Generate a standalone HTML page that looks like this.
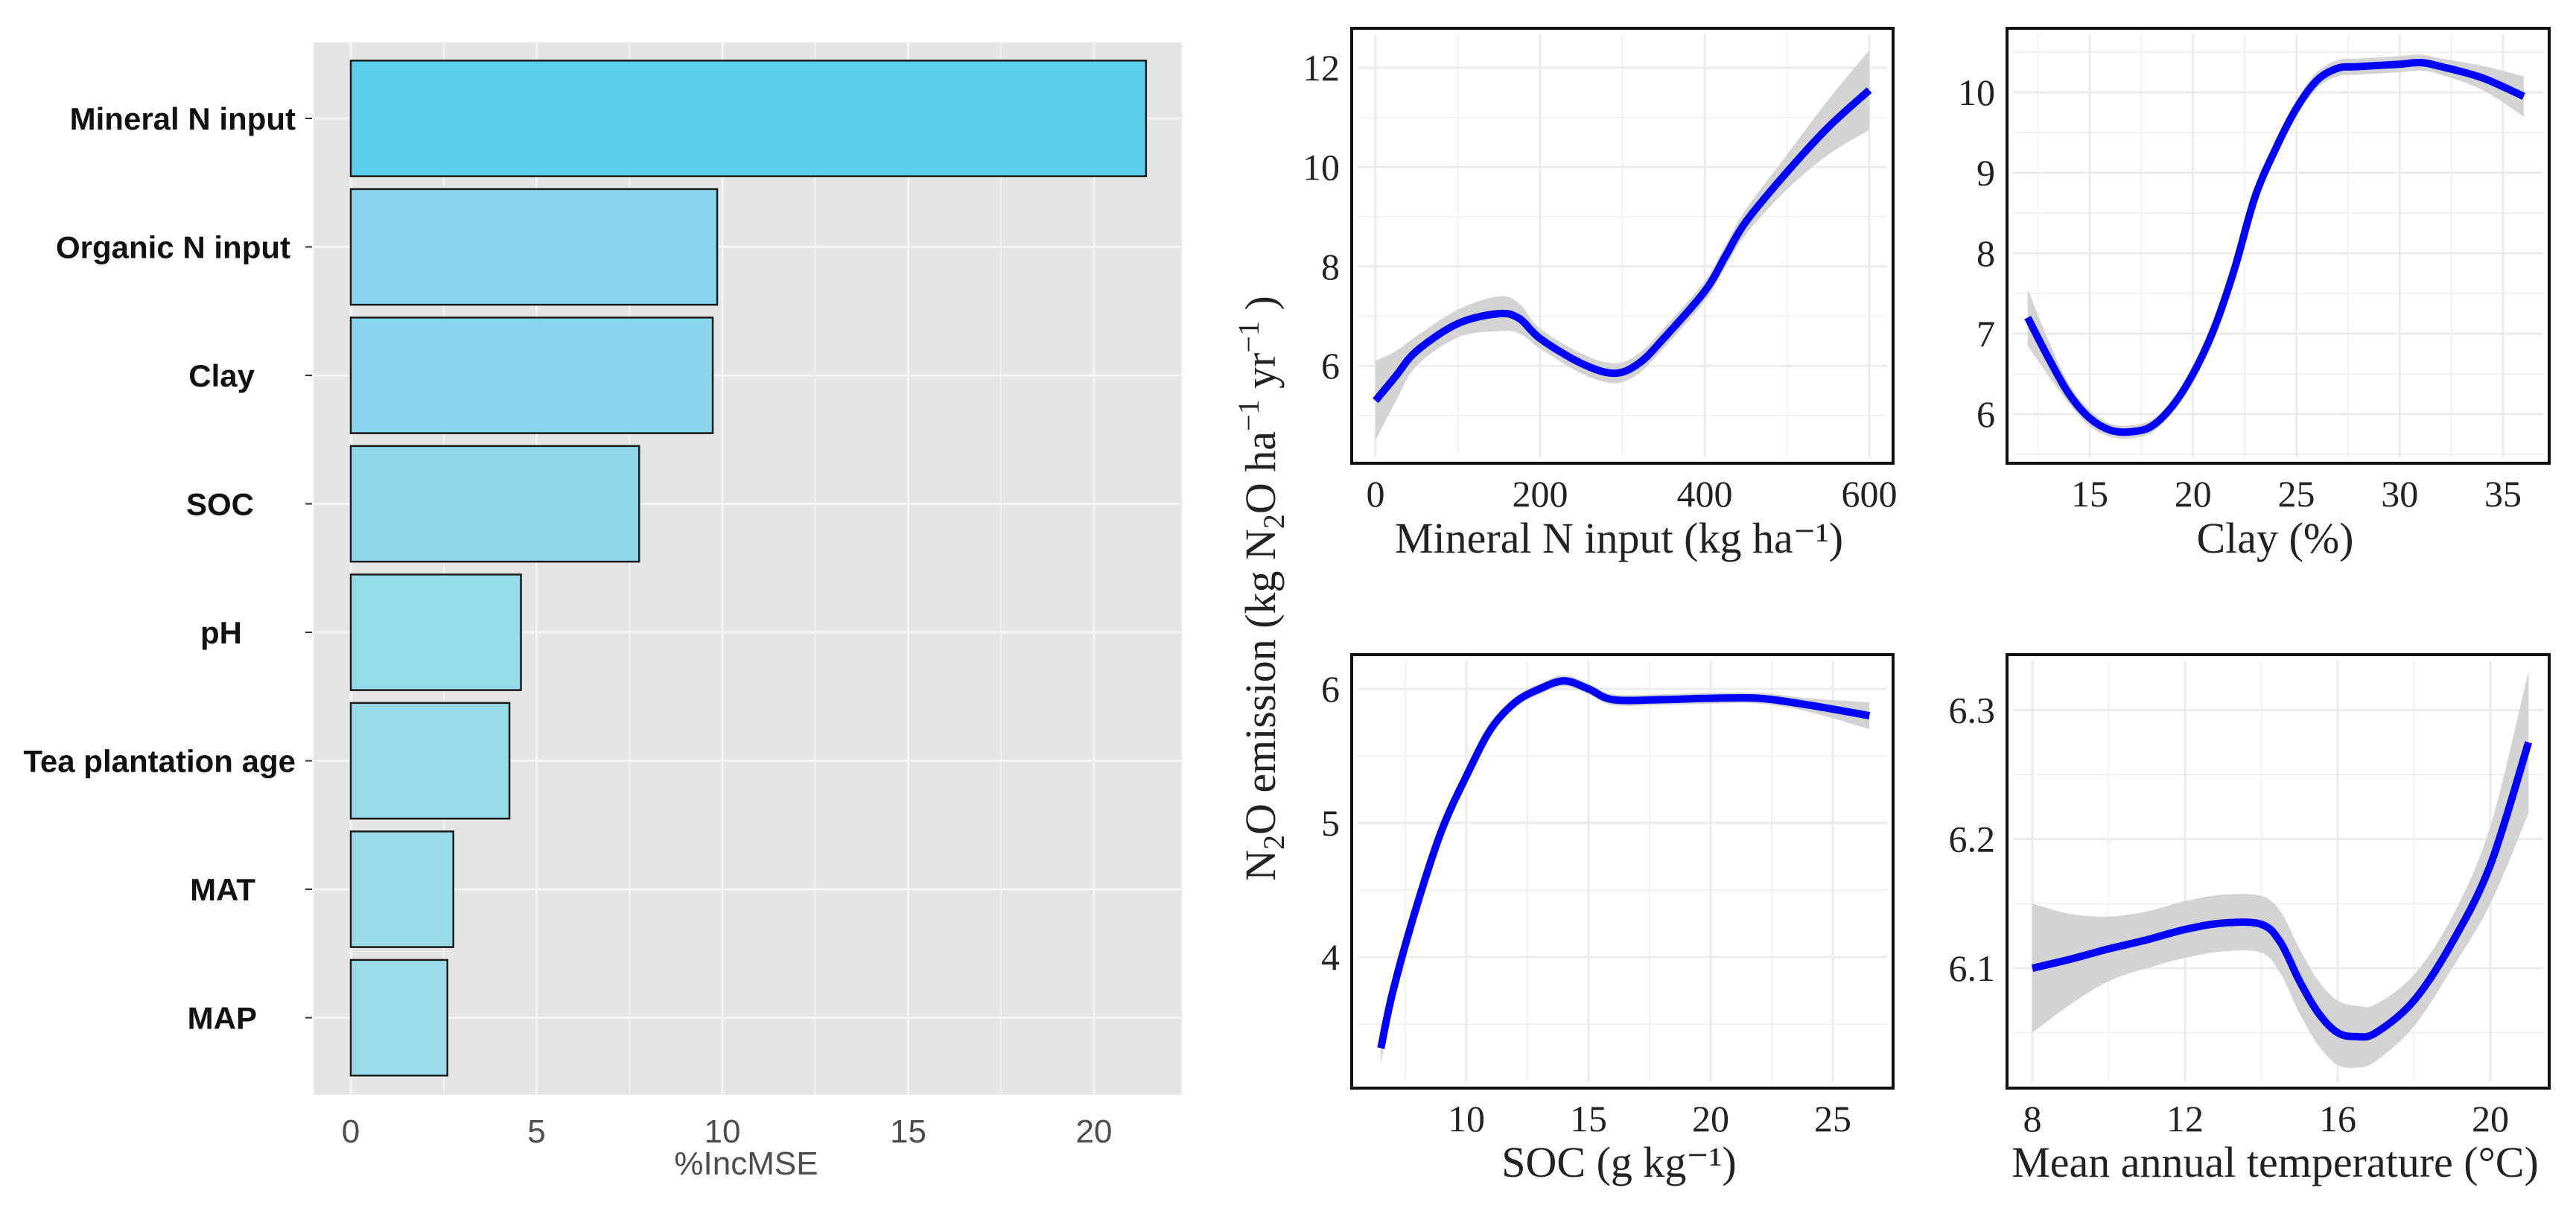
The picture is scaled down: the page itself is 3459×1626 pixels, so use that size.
<!DOCTYPE html>
<html><head><meta charset="utf-8">
<style>
html,body{margin:0;padding:0;background:#fff;}
svg{display:block;}
.lbl{font-family:"Liberation Sans",sans-serif;font-weight:bold;font-size:42px;fill:#111;}
.tk{font-family:"Liberation Sans",sans-serif;font-size:44px;fill:#4d4d4d;}
.ser{font-family:"Liberation Serif",serif;fill:#222;}
</style></head>
<body>
<svg id="chart" width="3459" height="1626" viewBox="0 0 3459 1626" xmlns="http://www.w3.org/2000/svg">
<g id="left"></g>
<g id="right"></g>
<text class="ser" font-size="58" transform="translate(1712,790) rotate(-90)" text-anchor="middle">N<tspan font-size="40" dy="12">2</tspan><tspan dy="-12">O emission (kg N</tspan><tspan font-size="40" dy="12">2</tspan><tspan dy="-12">O ha</tspan><tspan font-size="40" dy="-22">−1</tspan><tspan dy="22"> yr</tspan><tspan font-size="40" dy="-22">−1</tspan><tspan dy="22"> )</tspan></text>
</svg>
<script>
const NS='http://www.w3.org/2000/svg';
function mk(parent,tag,attrs){const e=document.createElementNS(NS,tag);for(const k in attrs)e.setAttribute(k,attrs[k]);parent.appendChild(e);return e;}

// ===== Importance bar chart data =====
const categories=['Mineral N input','Organic N input','Clay','SOC','pH','Tea plantation age','MAT','MAP'];
const incMSE=[21.4,9.86,9.74,7.76,4.58,4.27,2.76,2.6];
const barTicks=[0,5,10,15,20];
const labelRight=[397,390,342,341,325,397,343,345];
const barColors=['#58cfec','#88d6ec','#88d6ec','#8fd8ea','#94dae9','#96dae9','#99dbe8','#9bdce8'];

const L=document.getElementById('left');
const bx0=421,bx1=1587,by0=57,by1=1470;
const xs=v=>471+v*49.9;
const band=172.5, yc=i=>159+i*band;
let r=mk(L,'rect',{x:bx0,y:by0,width:bx1-bx0,height:by1-by0,fill:'#e5e5e5'});

for(let v=-2.5;v<=22.5;v+=2.5){const x=xs(v);if(x<bx0||x>bx1)continue;
 const g=mk(L,'line',{x1:x,x2:x,y1:by0,y2:by1,stroke:'#f4f4f4','stroke-width':(v%5===0)?3:1.5});
 }
categories.forEach((c,i)=>{const g=mk(L,'line',{x1:bx0,x2:bx1,y1:yc(i),y2:yc(i),stroke:'#f4f4f4','stroke-width':3});
 });
categories.forEach((c,i)=>{
 const b=mk(L,'rect',{x:xs(0),y:yc(i)-band*0.45,width:xs(incMSE[i])-xs(0),height:band*0.9,fill:barColors[i],stroke:'#1a1a1a','stroke-width':2.5});
 
 const t=mk(L,'text',{x:labelRight[i],y:yc(i)+15,'text-anchor':'end',class:'lbl'});t.textContent=c;
 
 const tk=mk(L,'line',{x1:410,x2:419,y1:yc(i),y2:yc(i),stroke:'#333','stroke-width':2});
 
});
barTicks.forEach(v=>{const t=mk(L,'text',{x:xs(v),y:1534,'text-anchor':'middle',class:'tk'});t.textContent=v;
 });
let xt=mk(L,'text',{x:1002,y:1577,'text-anchor':'middle',class:'tk','font-size':36});xt.textContent='%IncMSE';


// ===== Partial dependence data =====
const minNx=[0,25,50,100,150,175,200,250,290,320,350,400,425,450,500,550,600];
const minNy=[5.3,5.8,6.3,6.85,7.05,6.95,6.55,6.05,5.85,6.05,6.55,7.5,8.2,8.9,9.9,10.8,11.55];
const minNci=[0.8,0.5,0.3,0.28,0.35,0.3,0.2,0.2,0.2,0.2,0.2,0.2,0.22,0.25,0.35,0.55,0.8];
const clayX=[12,13,14,15,16,17,18,19,20,21,22,23,24,25,26,27,28,30,31,32,34,36];
const clayY=[7.2,6.7,6.25,5.95,5.8,5.78,5.85,6.1,6.5,7.05,7.8,8.7,9.3,9.8,10.15,10.3,10.32,10.35,10.37,10.32,10.18,9.95];
const clayCi=[0.35,0.22,0.12,0.1,0.08,0.08,0.08,0.08,0.1,0.1,0.1,0.1,0.1,0.1,0.1,0.1,0.1,0.1,0.1,0.1,0.15,0.25];
const socX=[6.5,7,8,9,10,11,12,13,14,15,16,18,20,22,24,26.5];
const socY=[3.32,3.75,4.4,4.95,5.35,5.7,5.9,6.0,6.06,6.0,5.92,5.92,5.93,5.93,5.88,5.8];
const socCi=[0.12,0.06,0.04,0.04,0.04,0.04,0.04,0.04,0.04,0.04,0.04,0.04,0.04,0.04,0.05,0.1];
const matX=[8,9,10,11,12,13,14,14.5,15,15.5,16,16.5,17,18,19,20,21];
const matY=[6.1,6.107,6.115,6.122,6.13,6.135,6.134,6.12,6.09,6.065,6.05,6.047,6.05,6.075,6.12,6.18,6.275];
const matCi=[0.05,0.035,0.025,0.022,0.022,0.022,0.022,0.024,0.025,0.025,0.025,0.024,0.022,0.02,0.02,0.03,0.055];

const panels=[
 {name:'mineral-n',x0:1815,x1:2542,y0:38,y1:622,xv0:0,xp0:1847,xk:221/200,yv0:12,yp0:91,yk:66.7,
  xmaj:[0,200,400,600],xmin:[100,300,500],ymaj:[6,8,10,12],ymin:[5,7,9,11],xl:[0,200,400,600],yl:['6','8','10','12'],
  X:minNx,Y:minNy,C:minNci,title:'Mineral N input (kg ha⁻¹)',tx:2174,ty:742},
 {name:'clay',x0:2695,x1:3423,y0:38,y1:622,xv0:15,xp0:2806,xk:27.75,yv0:10,yp0:124,yk:108,
  xmaj:[15,20,25,30,35],xmin:[12.5,17.5,22.5,27.5,32.5],ymaj:[6,7,8,9,10],ymin:[5.5,6.5,7.5,8.5,9.5,10.5],xl:[15,20,25,30,35],yl:['6','7','8','9','10'],
  X:clayX,Y:clayY,C:clayCi,title:'Clay (%)',tx:3055,ty:742},
 {name:'soc',x0:1815,x1:2542,y0:879,y1:1461,xv0:10,xp0:1969,xk:32.8,yv0:4,yp0:1285,yk:180,
  xmaj:[10,15,20,25],xmin:[7.5,12.5,17.5,22.5],ymaj:[4,5,6],ymin:[3.5,4.5,5.5],xl:[10,15,20,25],yl:['4','5','6'],
  X:socX,Y:socY,C:socCi,title:'SOC (g kg⁻¹)',tx:2174,ty:1580},
 {name:'mat',x0:2695,x1:3423,y0:879,y1:1461,xv0:8,xp0:2729,xk:51.25,yv0:6.1,yp0:1300,yk:1733,
  xmaj:[8,12,16,20],xmin:[10,14,18],ymaj:[6.1,6.2,6.3],ymin:[6.05,6.15,6.25],xl:[8,12,16,20],yl:['6.1','6.2','6.3'],
  X:matX,Y:matY,C:matCi,title:'Mean annual temperature (°C)',tx:3055,ty:1580}
];
function spline(pts){let d='M'+pts[0][0]+','+pts[0][1];
 for(let i=0;i<pts.length-1;i++){const p0=pts[Math.max(0,i-1)],p1=pts[i],p2=pts[i+1],p3=pts[Math.min(pts.length-1,i+2)];
  const c1=[p1[0]+(p2[0]-p0[0])/6,p1[1]+(p2[1]-p0[1])/6],c2=[p2[0]-(p3[0]-p1[0])/6,p2[1]-(p3[1]-p1[1])/6];
  d+=' C'+c1[0]+','+c1[1]+' '+c2[0]+','+c2[1]+' '+p2[0]+','+p2[1];}return d;}
const R=document.getElementById('right');
panels.forEach(p=>{
 const g=mk(R,'g',{});
 
 const sx=v=>p.xp0+(v-p.xv0)*p.xk, sy=v=>p.yp0-(v-p.yv0)*p.yk;
 mk(g,'rect',{x:p.x0,y:p.y0,width:p.x1-p.x0,height:p.y1-p.y0,fill:'#fff'});
 p.xmin.forEach(v=>mk(g,'line',{x1:sx(v),x2:sx(v),y1:p.y0+8,y2:p.y1-8,stroke:'#f2f2f2','stroke-width':2}));
 p.ymin.forEach(v=>{if(sy(v)>p.y0&&sy(v)<p.y1)mk(g,'line',{x1:p.x0+8,x2:p.x1-8,y1:sy(v),y2:sy(v),stroke:'#f2f2f2','stroke-width':2});});
 p.xmaj.forEach(v=>mk(g,'line',{x1:sx(v),x2:sx(v),y1:p.y0+8,y2:p.y1-8,stroke:'#ebebeb','stroke-width':3}));
 p.ymaj.forEach(v=>mk(g,'line',{x1:p.x0+8,x2:p.x1-8,y1:sy(v),y2:sy(v),stroke:'#ebebeb','stroke-width':3}));
 const up=p.X.map((x,i)=>[sx(x),sy(p.Y[i]+p.C[i])]);
 const lo=p.X.map((x,i)=>[sx(x),sy(p.Y[i]-p.C[i])]).reverse();
 const bd=spline(up)+' L'+lo[0][0]+','+lo[0][1]+spline(lo).slice(1).replace(/^[^C]*/,'')+' Z';
 const band=mk(g,'path',{d:bd,fill:'#d3d3d3'});
 
 const ln=mk(g,'path',{d:spline(p.X.map((x,i)=>[sx(x),sy(p.Y[i])])),fill:'none',stroke:'#0000ff','stroke-width':10,'stroke-linecap':'butt'});
 
 mk(g,'rect',{x:p.x0,y:p.y0,width:p.x1-p.x0,height:p.y1-p.y0,fill:'none',stroke:'#111','stroke-width':4});
 p.xl.forEach(v=>{const t=mk(g,'text',{x:sx(v),y:p.y1+58,'text-anchor':'middle',class:'ser','font-size':50,fill:'#444'});t.textContent=v;
  });
 p.yl.forEach(v=>{const t=mk(g,'text',{x:p.x0-16,y:sy(+v)+17,'text-anchor':'end',class:'ser','font-size':50,fill:'#444'});t.textContent=v;
  });
 const tt=mk(g,'text',{x:p.tx,y:p.ty,'text-anchor':'middle',class:'ser','font-size':58});tt.textContent=p.title;
 
});
</script>
</body></html>
